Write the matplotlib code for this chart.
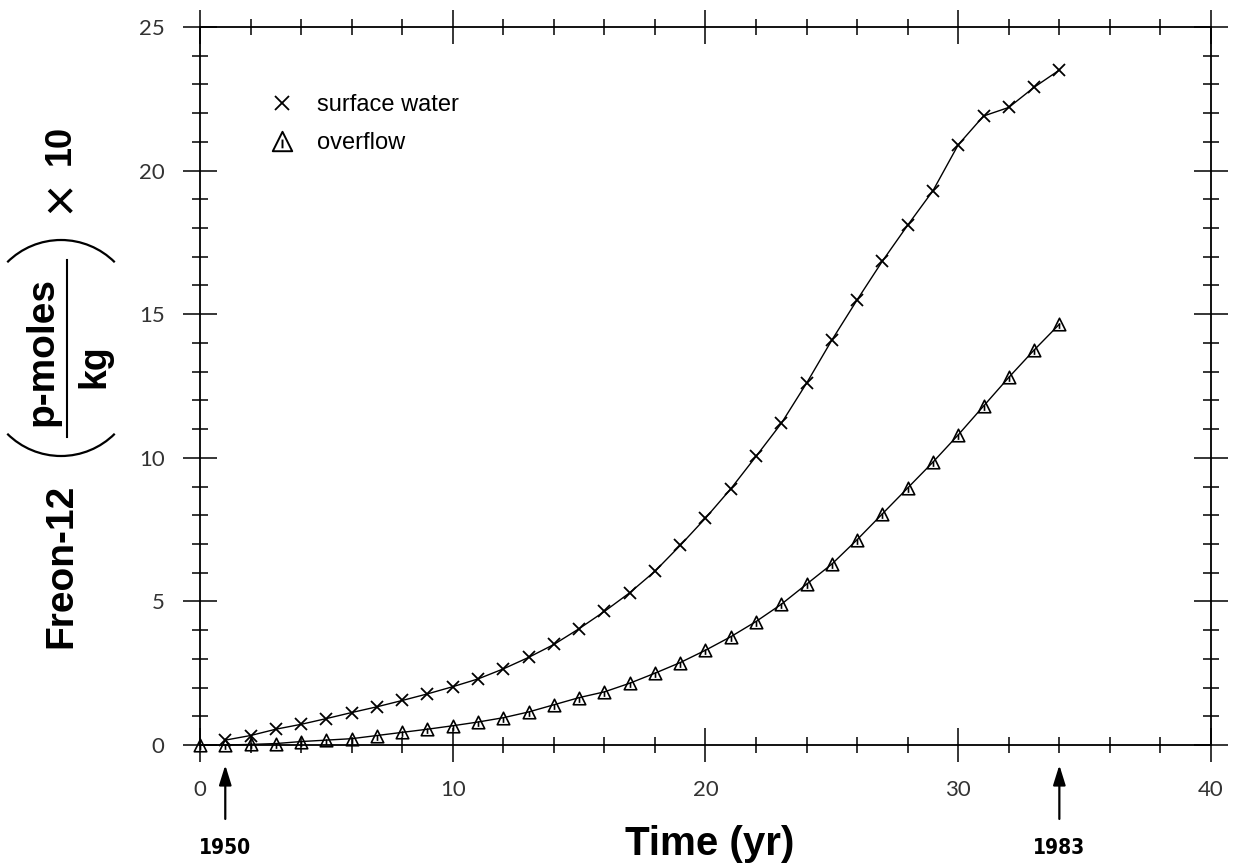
import numpy as np
import matplotlib
matplotlib.use("Agg")
import matplotlib.pyplot as plt
from matplotlib.path import Path
from matplotlib.patches import Arc
from matplotlib.lines import Line2D

# Freon-12 concentration
years_surface = list(range(1, 35))
surface = [0.17, 0.33, 0.55, 0.72, 0.92, 1.13, 1.33, 1.55, 1.78, 2.03,
           2.30, 2.65, 3.05, 3.50, 4.05, 4.65, 5.30, 6.05, 6.95, 7.90,
           8.92, 10.05, 11.20, 12.60, 14.10, 15.50, 16.85, 18.10, 19.30, 20.90,
           21.90, 22.20, 22.90, 23.50]

years_overflow = list(range(0, 35))
overflow = [0.0, 0.0, 0.02, 0.05, 0.12, 0.17, 0.22, 0.33, 0.44, 0.55,
            0.67, 0.80, 0.95, 1.15, 1.40, 1.65, 1.85, 2.15, 2.50, 2.87,
            3.30, 3.77, 4.30, 4.90, 5.60, 6.30, 7.15, 8.05, 8.95, 9.85,
            10.80, 11.80, 12.80, 13.75, 14.65]

x_ticks = [0, 10, 20, 30, 40]
y_ticks = [0, 5, 10, 15, 20, 25]
marked_years = [1, 34]
marked_labels = ["1950", "1983"]

# open triangle with a small stroke inside, like the original symbol
tri = Path([(0, 1), (-1, -1), (1, -1), (0, 1), (0, -0.7), (0, 0.2)],
           [Path.MOVETO, Path.LINETO, Path.LINETO, Path.CLOSEPOLY,
            Path.MOVETO, Path.LINETO])

W, H = 1234, 867
fig = plt.figure(figsize=(W / 100, H / 100), dpi=100)
ax = fig.add_axes([200 / W, 122 / H, 1011 / W, 718 / H])
ax.patch.set_alpha(0)

ax.plot(years_surface, surface, color="k", lw=1.0, marker="x", ms=8,
        mew=1.3, clip_on=False)
ax.plot(years_overflow, overflow, color="k", lw=1.0, marker=tri, ms=9,
        mew=1.2, mfc="none", clip_on=False)

ax.set_xlim(0, 40)
ax.set_ylim(0, 25)
ax.set_xticks(x_ticks)
ax.set_xticks(np.arange(0, 41, 2), minor=True)
ax.set_yticks(y_ticks)
ax.set_yticks(np.arange(0, 26, 1), minor=True)
for s in ax.spines.values():
    s.set_linewidth(1.3)
ax.tick_params(which="both", direction="inout", top=True, right=True,
               width=1.1, color="k")
ax.tick_params(which="major", length=25, pad=13, labelsize=16,
               labelcolor="#333333")
ax.tick_params(which="minor", length=12)
for lab in ax.get_xticklabels() + ax.get_yticklabels():
    lab.set_family("Lato")

# legend
h1 = Line2D([], [], color="k", ls="none", marker="x", ms=10, mew=1.3)
h2 = Line2D([], [], color="k", ls="none", marker=tri, ms=14, mew=1.4, mfc="none")
ax.legend([h1, h2], ["surface water", "overflow"], loc="upper left",
          bbox_to_anchor=(0.069, 0.907), frameon=False, handlelength=1.0,
          handletextpad=1.0, borderpad=0, borderaxespad=0, labelspacing=0.7,
          prop={"family": "Liberation Sans", "size": 17})

# year arrows under the axis
trans = ax.get_xaxis_transform()
for yr, lab in zip(marked_years, marked_labels):
    ax.annotate("", xy=(yr, -0.028), xycoords=trans, xytext=(yr, -0.103),
                textcoords=trans, annotation_clip=False,
                arrowprops=dict(arrowstyle="-|>,head_length=0.8,head_width=0.25",
                                color="k", lw=1.6, mutation_scale=15,
                                shrinkA=0, shrinkB=0))
    ax.text(yr, -0.143, lab, transform=trans, ha="center", va="center",
            fontsize=15, fontweight="bold", fontstretch="condensed",
            family="DejaVu Sans")

# axis titles drawn on a pixel overlay
ov = fig.add_axes([0, 0, 1, 1])
ov.set_xlim(0, W)
ov.set_ylim(H, 0)
ov.axis("off")
bold = dict(family="Liberation Sans", fontweight="bold", rotation=90,
            ha="center", va="center")
ov.text(61, 566, "Freon-12", fontsize=28, **bold)
ov.text(42, 352, "p-moles", fontsize=28, **bold)
ov.text(94, 366, "kg", fontsize=27, **bold)
ov.text(60, 145, "10", fontsize=26, **bold)
ov.text(61, 197, "\u00d7", fontsize=40, rotation=90, ha="center", va="center",
        family="Lato")
ov.plot([67, 67], [260, 437], color="k", lw=1.5)
ov.add_patch(Arc((61, 316), 152, 152, theta1=225, theta2=315, color="k", lw=1.6))
ov.add_patch(Arc((61, 380), 152, 152, theta1=45, theta2=135, color="k", lw=1.6))
ov.text(710, 844, "Time (yr)", fontsize=29, family="Liberation Sans",
        fontweight="bold", ha="center", va="center")

fig.savefig("out.png", dpi=100)
plt.close(fig)
